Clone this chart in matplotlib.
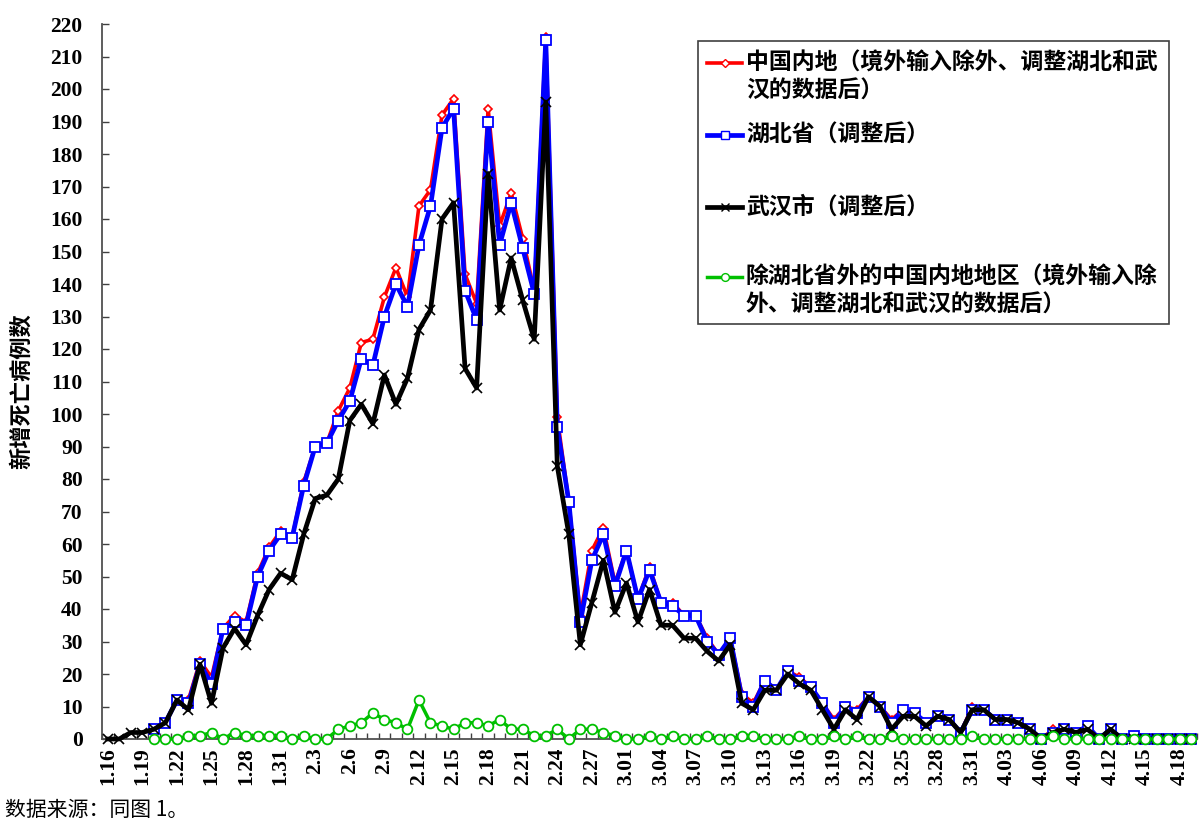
import numpy as np
import matplotlib
matplotlib.use("Agg")
import matplotlib.pyplot as plt
from matplotlib.lines import Line2D
from matplotlib.patches import Rectangle

# daily new deaths, 1.16 to 4.19 (95 days); nan = no data yet
nan = np.nan
mainland = [nan, nan, nan, nan, 3, 5, 12, 12, 24, 19,
            34, 38, 36, 51, 59, 64, 62, 79, 90, 91,
            101, 108, 122, 123, 136, 145, 136, 164, 169, 192,
            197, 143, 134, 194, 158, 168, 154, 138, 216, 99,
            73, 38, 58, 65, 48, 58, 43, 53, 42, 42,
            38, 38, 31, 26, 31, 14, 11, 18, 15, 21,
            19, 16, 11, 6, 10, 9, 13, 10, 6, 9,
            8, 5, 7, 6, 2, 10, 9, 6, 6, 5,
            3, 0, 3, 3, 2, 4, 0, 3, 0, 1,
            0, 0, 0, 0, 0]
hubei = [nan, nan, nan, nan, 3, 5, 12, 11, 23, 17,
         34, 36, 35, 50, 58, 63, 62, 78, 90, 91,
         98, 104, 117, 115, 130, 140, 133, 152, 164, 188,
         194, 138, 129, 190, 152, 165, 151, 137, 215, 96,
         73, 36, 55, 63, 47, 58, 43, 52, 42, 41,
         38, 38, 30, 26, 31, 13, 10, 18, 15, 21,
         18, 16, 11, 5, 10, 8, 13, 10, 5, 9,
         8, 5, 7, 6, 2, 9, 9, 6, 6, 5,
         3, 0, 2, 3, 2, 4, 0, 3, 0, 1,
         0, 0, 0, 0, 0]
wuhan = [0, 0, 2, 2, 3, 5, 12, 9, 23, 11,
         28, 34, 29, 38, 46, 51, 49, 63, 74, 75,
         80, 98, 103, 97, 112, 103, 111, 126, 132, 160,
         165, 114, 108, 174, 132, 148, 135, 123, 196, 84,
         63, 29, 42, 55, 39, 48, 36, 46, 35, 35,
         31, 31, 27, 24, 29, 11, 9, 15, 15, 20,
         17, 15, 9, 3, 9, 6, 13, 10, 3, 7,
         7, 4, 7, 6, 2, 9, 9, 6, 6, 5,
         3, 0, 2, 3, 2, 3, 0, 3, 0, 0,
         0, 0, 0, 0, 0]
others = [nan, nan, nan, nan, 0, 0, 0, 1, 1, 2,
          0, 2, 1, 1, 1, 1, 0, 1, 0, 0,
          3, 4, 5, 8, 6, 5, 3, 12, 5, 4,
          3, 5, 5, 4, 6, 3, 3, 1, 1, 3,
          0, 3, 3, 2, 1, 0, 0, 1, 0, 1,
          0, 0, 1, 0, 0, 1, 1, 0, 0, 0,
          1, 0, 0, 1, 0, 1, 0, 0, 1, 0,
          0, 0, 0, 0, 0, 1, 0, 0, 0, 0,
          0, 0, 1, 0, 0, 0, 0, 0, 0, 0,
          0, 0, 0, 0, 0]

tick_labels = ["1.16", "1.19", "1.22", "1.25", "1.28", "1.31", "2.3", "2.6",
               "2.9", "2.12", "2.15", "2.18", "2.21", "2.24", "2.27", "3.01",
               "3.04", "3.07", "3.10", "3.13", "3.16", "3.19", "3.22", "3.25",
               "3.28", "3.31", "4.03", "4.06", "4.09", "4.12", "4.15", "4.18"]

labels = ["中国内地（境外输入除外、调整湖北和武\n汉的数据后）",
          "湖北省（调整后）",
          "武汉市（调整后）",
          "除湖北省外的中国内地地区（境外输入除\n外、调整湖北和武汉的数据后）"]

cjk = ["Noto Sans CJK SC", "DejaVu Sans"]
serif = "Liberation Serif"

W, H = 1201, 823
fig = plt.figure(figsize=(W / 100, H / 100), dpi=100)
ax = fig.add_axes([102 / W, 1 - 739 / H, 1095 / W, 715 / H])

x = np.arange(len(wuhan))
styles = [
    dict(color="#ff0000", lw=2.6, marker="D", ms=4.5, mfc="white", mec="#ff0000", mew=1.2),
    dict(color="#0000ff", lw=3.4, marker="s", ms=6.5, mfc="white", mec="#0000ff", mew=1.3),
    dict(color="black", lw=3.4, marker="x", ms=7, mec="black", mew=1.2),
    dict(color="#00c000", lw=2.5, marker="o", ms=7, mfc="white", mec="#00c000", mew=1.3),
]
series = [mainland, hubei, wuhan, others]
for i, (ys, st) in enumerate(zip(series, styles)):
    ax.plot(x, ys, zorder=3 + i, clip_on=False, **st)

ax.set_xlim(-0.5, len(wuhan) - 0.5)
ax.set_ylim(0, 220)
ax.set_yticks(np.arange(0, 221, 10))
ax.set_xticks(x[::3])
ax.set_xticklabels(tick_labels, rotation=90, fontfamily=serif, fontweight="bold", fontsize=15.5)
ax.set_xticks(np.arange(-0.5, len(wuhan), 1), minor=True)
for lab in ax.get_yticklabels():
    lab.set_fontfamily(serif)
    lab.set_fontweight("bold")
    lab.set_fontsize(15.5)
ax.tick_params(axis="x", which="major", length=0, pad=6)
ax.tick_params(axis="x", which="minor", direction="in", length=4.5, width=1, color="#404040")
ax.tick_params(axis="y", direction="in", length=5, width=1, color="#404040", pad=14)

for s in ["top", "right"]:
    ax.spines[s].set_visible(False)
for s in ["left", "bottom"]:
    ax.spines[s].set_color("#505050")
    ax.spines[s].set_linewidth(1.3)

# legend box drawn by hand so the handle sits on the first text line
fig.add_artist(Rectangle((698 / W, 1 - 324 / H), 471 / W, 283 / H, transform=fig.transFigure,
                         fill=False, edgecolor="#404040", lw=1.2, zorder=10))
rows = [63, 135, 207, 277]
for yy, lab, st in zip(rows, labels, styles):
    fy = 1 - yy / H
    fig.add_artist(Line2D([707 / W, 742 / W], [fy, fy], transform=fig.transFigure,
                          color=st["color"], lw=st["lw"], zorder=11))
    fig.add_artist(Line2D([724.5 / W], [fy], transform=fig.transFigure, color=st["color"],
                          marker=st["marker"], ms=st["ms"] * 0.8, mfc=st.get("mfc", "none"),
                          mec=st["mec"], mew=1.0, zorder=12))
    fig.text(746 / W, fy + 11 / H, lab, family=cjk, fontweight="bold", fontsize=16.5,
             va="top", ha="left", linespacing=1.28, zorder=12)

fig.text(22 / W, 1 - 391 / H, "新增死亡病例数", family=cjk, fontweight="bold", fontsize=16,
         rotation=90, va="center", ha="center")
fig.text(5 / W, 1 - 810 / H, "数据来源：同图 1。", family=cjk, fontsize=15, va="center", ha="left")

fig.savefig("out.png", dpi=100)
